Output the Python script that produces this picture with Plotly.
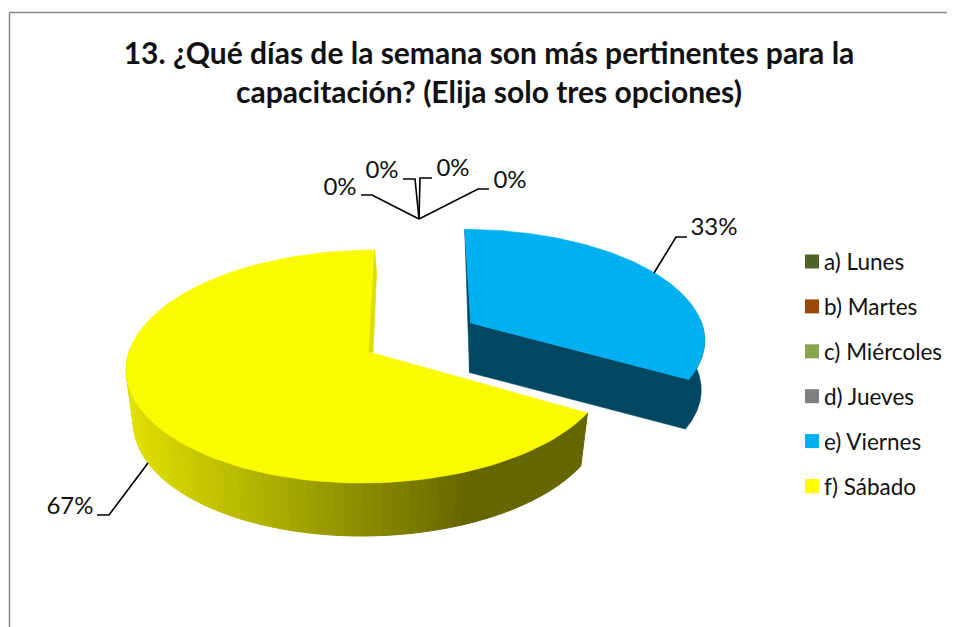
import math
import plotly.graph_objects as go

categories = ["a) Lunes", "b) Martes", "c) Miércoles", "d) Jueves", "e) Viernes", "f) Sábado"]
values = [0, 0, 0, 0, 33.3, 66.7]
legend_colors = ["#4F6228", "#984807", "#88A54E", "#7F7F7F", "#00B0F0", "#FFFF00"]
title_lines = ["13. ¿Qué días de la semana son más pertinentes para la",
               "capacitación? (Elija solo tres opciones)"]

FONT = "Lato"
INK = "#111111"
XV = 420
PAGE_PAD = 8  # default page margin of the written html
W, H = 955 - PAGE_PAD, 627 - PAGE_PAD
total = sum(values)
pct = [f"{round(v / total * 100)}%" for v in values]

# sweep of each slice, clockwise from 12 o'clock
angles = []
acc = 0.0
for v in values:
    angles.append((acc, acc + v / total * 360))
    acc += v / total * 360

GEOM = {
    4: dict(x0=470.7, y0=323, a=231, b=106, k=0.132, d=49.5, sc=0.985),
    5: dict(x0=369, y0=352, a=240, b=114.7, k=0.1245, d=53, sc=0.97),
}


def project(g, deg, level=0):
    t = math.radians(deg)
    u, v = math.sin(t), -math.cos(t)
    den = 1 - g["k"] * v
    sc = g["sc"] if level else 1
    x = XV + (g["x0"] - XV + g["a"] * sc * u) / den
    y = g["y0"] + g["b"] * v / den + g["d"] * level
    return x, y


def apex(g, level=0):
    return g["x0"] - 1.2 * level, g["y0"] + g["d"] * level


def arc(g, a0, a1, level=0, n=120):
    return [project(g, a0 + (a1 - a0) * i / n, level) for i in range(n + 1)]


fig = go.Figure()


def poly(points, color, line=0.6):
    fig.add_trace(go.Scatter(
        x=[p[0] for p in points] + [points[0][0]],
        y=[p[1] for p in points] + [points[0][1]],
        mode="lines", fill="toself", fillcolor=color,
        line=dict(color=color, width=line),
        hoverinfo="skip", showlegend=False))


def path(points, color="#000000", width=1.6):
    fig.add_trace(go.Scatter(
        x=[p[0] for p in points], y=[p[1] for p in points], mode="lines",
        line=dict(color=color, width=width),
        hoverinfo="skip", showlegend=False))


def label(x, y, text):
    fig.add_trace(go.Scatter(
        x=[x], y=[y], mode="text", text=[text], textposition="middle center",
        textfont=dict(family=FONT, size=24, color=INK),
        hoverinfo="skip", showlegend=False))


# Viernes slice
blue = GEOM[4]
b0, b1 = angles[4]
DARK = "#004761"
poly([project(blue, b0), apex(blue), apex(blue, 1)], DARK)
poly([apex(blue), apex(blue, 1)] + arc(blue, b1, 88, 1) + arc(blue, 88, b1), DARK)
poly([apex(blue)] + arc(blue, b0, b1), "#00B0F0")

# Sábado slice
yel = GEOM[5]
y0_, y1_ = angles[5]
WALL_END = 272
steps = 76
for i in range(steps):
    a0 = y0_ + (WALL_END - y0_) * i / steps
    a1 = y0_ + (WALL_END - y0_) * (i + 1) / steps
    xm = project(yel, (a0 + a1) / 2, 1)[0]
    f = min(1.0, max(0.0, (xm - 135) / (465 - 135)))
    r = round(224 + (102 - 224) * f)
    poly(arc(yel, a0, a1, 0, 4) + arc(yel, a1, a0, 1, 4), f"rgb({r},{r},0)", 1)
poly([apex(yel)] + arc(yel, y0_, y1_), "#FAFA00")
top_corner = project(yel, 360)
poly([top_corner, (top_corner[0] + 2, top_corner[1] + 23),
      (yel["x0"] + 4, yel["y0"]), apex(yel)], "#DDDD00")

# leader lines
path([(419, 219), (372, 195), (361, 195)])
path([(419, 219), (415, 179), (403, 179)])
path([(419, 219), (420, 178), (432, 178)])
path([(419, 219), (478, 189), (489, 189)])
path([(654, 273), (676, 237), (687, 237)])
path([(148, 463), (109, 515), (97, 515)])

# data labels
label(340, 189, pct[0])
label(382, 172, pct[1])
label(453, 170, pct[2])
label(510, 182, pct[3])
label(714, 229, pct[4])
label(70, 508, pct[5])

# legend
for i, (cat, col) in enumerate(zip(categories, legend_colors)):
    yy = 261.5 + i * 44.9
    fig.add_trace(go.Scatter(
        x=[812], y=[yy], mode="markers",
        marker=dict(symbol="square", size=14, color=col, line=dict(width=0)),
        hoverinfo="skip", showlegend=False))
    fig.add_annotation(x=822, y=yy, text=cat, showarrow=False, xanchor="left",
                       yanchor="middle", xref="x", yref="y",
                       font=dict(family=FONT, size=22.5, color=INK))

fig.update_layout(
    width=W, height=H, margin=dict(l=0, r=0, t=0, b=0),
    autosize=False,
    paper_bgcolor="#FFFFFF", plot_bgcolor="#FFFFFF",
    showlegend=False,
    xaxis=dict(range=[PAGE_PAD, 955], visible=False, fixedrange=True),
    yaxis=dict(range=[627, PAGE_PAD], visible=False, fixedrange=True),
    title=dict(text="<br>".join(title_lines), x=(489 - PAGE_PAD) / W, xanchor="center",
               y=1 - (64 - PAGE_PAD) / H, yanchor="top",
               font=dict(family=FONT, size=30, color=INK, weight="bold")),
    shapes=[
        dict(type="line", xref="x", yref="y", x0=9.5, x1=955, y0=12.5, y1=12.5,
             line=dict(color="#868686", width=1.5)),
        dict(type="line", xref="x", yref="y", x0=9.5, x1=9.5, y0=12.5, y1=627,
             line=dict(color="#868686", width=1.5)),
    ],
)
fig.write_html("out.html")
